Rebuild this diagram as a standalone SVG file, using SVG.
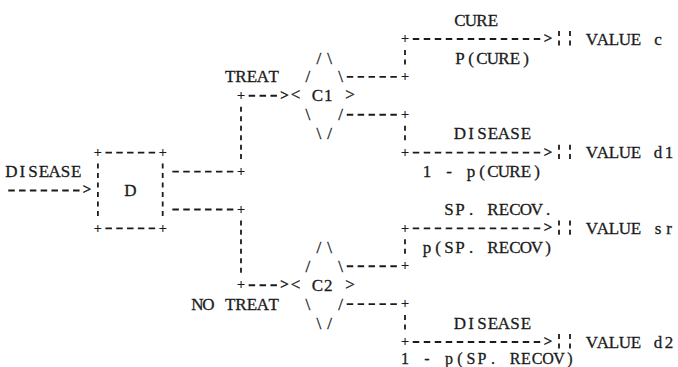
<svg xmlns="http://www.w3.org/2000/svg" width="678" height="367" viewBox="0 0 678 367">
  <style>
    .t { font-family: "Liberation Serif", "Times New Roman", serif; font-size: 17px; fill: #1b1b1b; stroke: #1b1b1b; stroke-width: 0.3; text-anchor: middle; }
    .a { font-family: "Liberation Serif", "Times New Roman", serif; font-size: 15px; fill: #1b1b1b; stroke: #1b1b1b; stroke-width: 0.5; text-anchor: middle; }
    .pl { font-family: "Liberation Serif", "Times New Roman", serif; font-size: 15px; font-weight: bold; fill: #1b1b1b; text-anchor: middle; }
    .dl { stroke: #1b1b1b; stroke-width: 1.9; fill: none; stroke-dasharray: 6.5 4.3; }
    .dm { stroke: #1b1b1b; stroke-width: 1.9; fill: none; stroke-dasharray: 6.5 4.4; }
    .dr { stroke: #1b1b1b; stroke-width: 1.9; fill: none; stroke-dasharray: 6.5 4.5; }
    .v  { stroke: #1b1b1b; stroke-width: 1.8; fill: none; stroke-dasharray: 5 4.47; }
  </style>
  <rect width="678" height="367" fill="#ffffff"/>

  <!-- decision box D -->
  <g id="node-D">
    <line class="dl" x1="105.45" y1="152.64" x2="155.15" y2="152.64"/>
    <line class="dl" x1="105.45" y1="228.4" x2="155.15" y2="228.4"/>
    <line class="v" x1="97.9" y1="163.58" x2="97.9" y2="215.93"/>
    <line class="v" x1="162.7" y1="163.58" x2="162.7" y2="215.93"/>
    <text class="pl" x="97.9" y="156.84">+</text>
    <text class="pl" x="162.7" y="156.84">+</text>
    <text class="pl" x="97.9" y="232.6">+</text>
    <text class="pl" x="162.7" y="232.6">+</text>
    <text class="t" x="130.3" y="196.12">D</text>
  </g>

  <!-- chance node C1 -->
  <g id="node-C1">
    <text class="t" x="318.8 329.7" y="63.54">/\</text>
    <text class="t" x="307.9" y="82.48">/</text>
    <text class="t" x="340.6" y="82.48">\</text>
    <text class="t" x="295.5" y="100.22">&lt;</text>
    <text class="t" x="317.3 328.2" y="101.42">C1</text>
    <text class="t" x="350" y="100.22">&gt;</text>
    <text class="t" x="307.9" y="120.36">\</text>
    <text class="t" x="340.6" y="120.36">/</text>
    <text class="t" x="318.8 329.7" y="139.3">\/</text>
  </g>

  <!-- chance node C2 -->
  <g id="node-C2">
    <text class="t" x="318.8 329.7" y="252.94">/\</text>
    <text class="t" x="307.9" y="271.88">/</text>
    <text class="t" x="340.6" y="271.88">\</text>
    <text class="t" x="295.5" y="289.62">&lt;</text>
    <text class="t" x="317.3 328.2" y="290.82">C2</text>
    <text class="t" x="350" y="289.62">&gt;</text>
    <text class="t" x="307.9" y="309.76">\</text>
    <text class="t" x="340.6" y="309.76">/</text>
    <text class="t" x="318.8 329.7" y="328.7">\/</text>
  </g>

  <!-- terminal values -->
  <g id="value-c">
    <line class="v" x1="559" y1="31" x2="559" y2="45.47"/>
    <line class="v" x1="570" y1="31" x2="570" y2="45.47"/>
    <text class="t" x="592 603 614 625 636 647 658" y="44.6">VALUE c</text>
  </g>
  <g id="value-d1">
    <line class="v" x1="559" y1="144.64" x2="559" y2="159.11"/>
    <line class="v" x1="570" y1="144.64" x2="570" y2="159.11"/>
    <text class="t" x="592 603 614 625 636 647 658 669" y="158.24">VALUE d1</text>
  </g>
  <g id="value-sr">
    <line class="v" x1="559" y1="220.4" x2="559" y2="234.87"/>
    <line class="v" x1="570" y1="220.4" x2="570" y2="234.87"/>
    <text class="t" x="592 603 614 625 636 647 658 669" y="234">VALUE sr</text>
  </g>
  <g id="value-d2">
    <line class="v" x1="559" y1="334.04" x2="559" y2="348.51"/>
    <line class="v" x1="570" y1="334.04" x2="570" y2="348.51"/>
    <text class="t" x="592 603 614 625 636 647 658 669" y="347.64">VALUE d2</text>
  </g>

  <!-- connectors -->
  <g id="connectors">
    <!-- incoming arrow -->
    <line class="dl" x1="8.25" y1="190.52" x2="79.55" y2="190.52"/>
    <text class="a" x="87.1" y="194.42">&gt;</text>
    <!-- branches out of D -->
    <line class="dm" x1="172.35" y1="171.58" x2="233.35" y2="171.58"/>
    <line class="dm" x1="172.35" y1="209.46" x2="233.35" y2="209.46"/>
    <line class="v" x1="241" y1="106.76" x2="241" y2="159.11"/>
    <line class="v" x1="241" y1="220.4" x2="241" y2="272.75"/>
    <text class="pl" x="241" y="100.02">+</text>
    <text class="pl" x="241" y="175.78">+</text>
    <text class="pl" x="241" y="213.66">+</text>
    <text class="pl" x="241" y="289.42">+</text>
    <line class="dm" x1="248.65" y1="95.82" x2="276.95" y2="95.82"/>
    <line class="dm" x1="248.65" y1="285.22" x2="276.95" y2="285.22"/>
    <text class="a" x="284.6" y="99.72">&gt;</text>
    <text class="a" x="284.6" y="289.12">&gt;</text>
    <!-- tails out of the chance nodes -->
    <line class="dm" x1="346.75" y1="76.88" x2="396.85" y2="76.88"/>
    <line class="dm" x1="346.75" y1="114.76" x2="396.85" y2="114.76"/>
    <line class="dm" x1="346.75" y1="266.28" x2="396.85" y2="266.28"/>
    <line class="dm" x1="346.75" y1="304.16" x2="396.85" y2="304.16"/>
    <line class="v" x1="405" y1="49.94" x2="405" y2="64.41"/>
    <line class="v" x1="405" y1="125.7" x2="405" y2="140.17"/>
    <line class="v" x1="405" y1="239.34" x2="405" y2="253.81"/>
    <line class="v" x1="405" y1="315.1" x2="405" y2="329.57"/>
    <text class="pl" x="405" y="43.2">+</text>
    <text class="pl" x="405" y="81.08">+</text>
    <text class="pl" x="405" y="118.96">+</text>
    <text class="pl" x="405" y="156.84">+</text>
    <text class="pl" x="405" y="232.6">+</text>
    <text class="pl" x="405" y="270.48">+</text>
    <text class="pl" x="405" y="308.36">+</text>
    <text class="pl" x="405" y="346.04">+</text>
    <!-- arrows to the values -->
    <line class="dr" x1="412.75" y1="39" x2="540.25" y2="39"/>
    <line class="dr" x1="412.75" y1="152.64" x2="540.25" y2="152.64"/>
    <line class="dr" x1="412.75" y1="228.4" x2="540.25" y2="228.4"/>
    <line class="dr" x1="412.75" y1="342.04" x2="540.25" y2="342.04"/>
    <text class="a" x="548" y="42.9">&gt;</text>
    <text class="a" x="548" y="156.54">&gt;</text>
    <text class="a" x="548" y="232.3">&gt;</text>
    <text class="a" x="548" y="345.94">&gt;</text>
  </g>

  <!-- branch labels -->
  <g id="labels">
    <text class="t" x="11.5 22.3 33.1 43.9 54.7 65.5 76.3" y="177.18">DISEASE</text>
    <text class="t" x="230.1 241 251.9 262.8 273.7" y="82.48">TREAT</text>
    <text class="t" x="197.4 208.3 219.2 230.1 241 251.9 262.8 273.7" y="309.76">NO TREAT</text>
    <text class="t" x="460 471 482 493" y="25.66">CURE</text>
    <text class="t" x="460 471 482 493 504 515 526" y="63.54">P(CURE)</text>
    <text class="t" x="460 471 482 493 504 515 526" y="139.3">DISEASE</text>
    <text class="t" x="427 438 449 460 471 482 493 504 515 526 537" y="177.18">1 - p(CURE)</text>
    <text class="t" x="449 460 471 482 493 504 515 526 537 548" y="215.06">SP. RECOV.</text>
    <text class="t" x="427 438 449 460 471 482 493 504 515 526 537 548" y="252.94">p(SP. RECOV)</text>
    <text class="t" x="460 471 482 493 504 515 526" y="328.7">DISEASE</text>
    <text class="t" x="405 416 427 438 449 460 471 482 493 504 515 526 537 548 559 570" y="363.8" style="font-size:16px">1 - p(SP. RECOV)</text>
  </g>
</svg>
